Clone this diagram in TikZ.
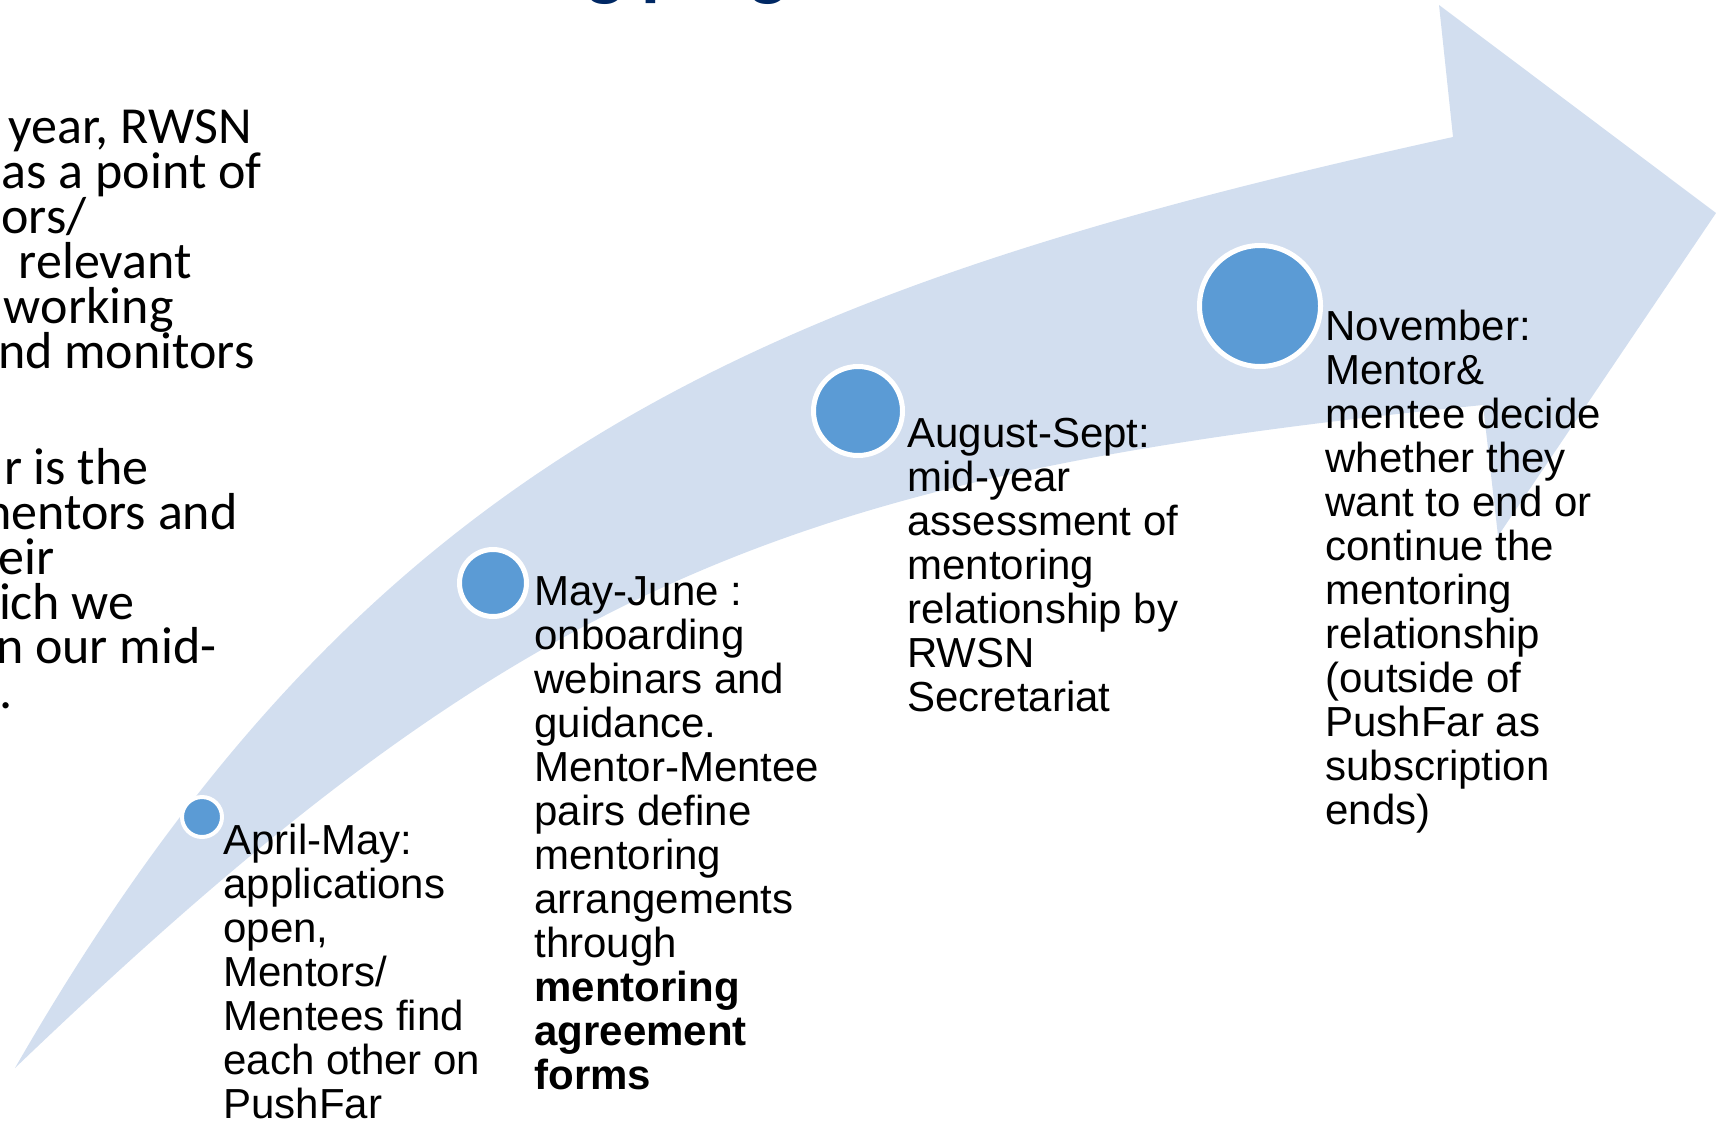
\documentclass[tikz,border=0pt]{standalone}
\usepackage{fontspec}
\setmainfont{Liberation Sans}
\newfontfamily\calibri{Carlito}
\definecolor{band}{RGB}{210,222,239}
\definecolor{dot}{RGB}{91,155,213}
\definecolor{navy}{RGB}{0,40,100}
\begin{document}
\begin{tikzpicture}[x=0.5pt,y=-0.5pt,
  dotnode/.style={circle,fill=dot,draw=white,inner sep=0pt},
  steptext/.style={anchor=base west,align=left,inner sep=0pt,font=\fontsize{21pt}{22pt}\selectfont},
  lefttext/.style={anchor=base east,inner sep=0pt,font=\calibri\fontsize{26pt}{22.5pt}\selectfont},
  titletext/.style={anchor=base west,inner sep=0pt,text=navy,font=\calibri\bfseries\fontsize{38.5pt}{40pt}\selectfont}]
\useasboundingbox (0,0) rectangle (1716,1124);
\begin{scope}
\clip (0,0) rectangle (1716,1124);
% arrow band
\fill[band] (15,1068) .. controls (365,459) and (753,291) .. (1453,137)
  -- (1439,5) -- (1716,213) -- (1498,536) -- (1483,405)
  .. controls (783,475) and (519,585) .. (15,1068) -- cycle;
% title fragment
\node[titletext] (title) at (290,-9) {mentoring programme};
% milestones
\node[dotnode,minimum size=20pt,line width=2pt] (c1) at (202,817) {};
\node[dotnode,minimum size=33.5pt,line width=2.5pt] (c2) at (493,583) {};
\node[dotnode,minimum size=44.5pt,line width=2.5pt] (c3) at (858,411) {};
\node[dotnode,minimum size=60.5pt,line width=2.5pt] (c4) at (1260,306) {};
% step texts (anchored at the baseline of their last line)
\node[steptext] (t1) at (223,1118) {April-May:\\applications\\open,\\Mentors/\\Mentees find\\each other on\\PushFar};
\node[steptext] (t2) at (534,1089) {May-June :\\onboarding\\webinars and\\guidance.\\Mentor-Mentee\\pairs define\\mentoring\\arrangements\\through\\\textbf{mentoring}\\\textbf{agreement}\\\textbf{forms}};
\node[steptext] (t3) at (907,711) {August-Sept:\\mid-year\\assessment of\\mentoring\\relationship by\\RWSN\\Secretariat};
\node[steptext] (t4) at (1325,824) {November:\\Mentor\&\\mentee decide\\whether they\\want to end or\\continue the\\mentoring\\relationship\\(outside of\\PushFar as\\subscription\\ends)};
% left text fragments
\node[lefttext] (l1) at (252,143) {year, RWSN};
\node[lefttext] (l2) at (262,188) {as a point of};
\node[lefttext] (l3) at (87,233) {ors/};
\node[lefttext] (l4) at (192,278) {relevant};
\node[lefttext] (l5) at (174,323) {working};
\node[lefttext] (l6) at (255,368) {nd monitors};
\node[lefttext] (l7) at (149,484) {r is the};
\node[lefttext] (l8) at (238,529) {mentors and};
\node[lefttext] (l9) at (55,574) {eir};
\node[lefttext] (l10) at (135,619) {ich we};
\node[lefttext] (l11) at (217,663) {n our mid-};
\node[lefttext] (l12) at (13,708) {.};
\end{scope}
\end{tikzpicture}
\end{document}
